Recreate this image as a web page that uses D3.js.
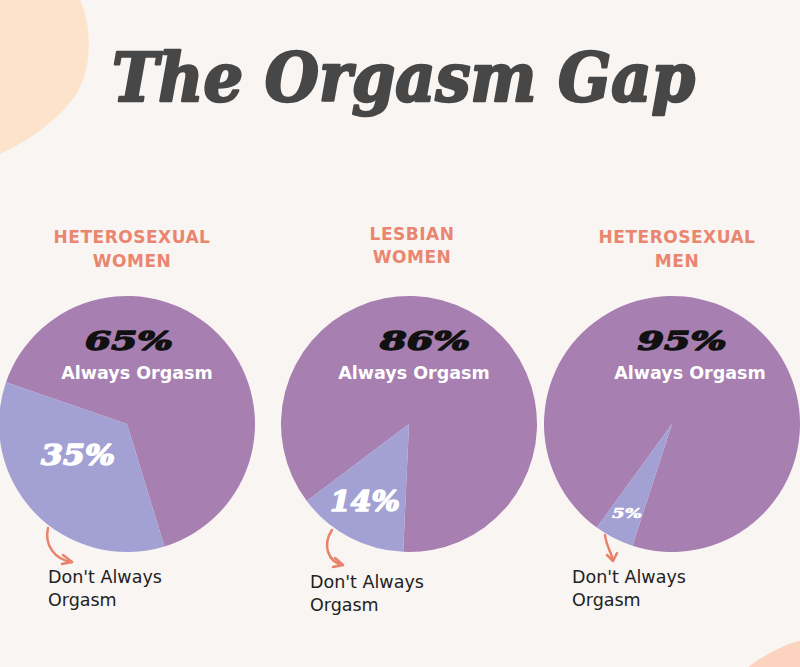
<!DOCTYPE html>
<html>
<head>
<meta charset="utf-8">
<script src="https://cdn.jsdelivr.net/npm/d3@7"></script>
<style>
  html, body { margin: 0; padding: 0; background: #f9f5f2; }
  svg { display: block; }
</style>
</head>
<body>
<svg id="chart" width="800" height="667"></svg>
<script>
// ---------- data ----------
const title = "The Orgasm Gap";
const groupLines = [["HETEROSEXUAL", "WOMEN"], ["LESBIAN", "WOMEN"], ["HETEROSEXUAL", "MEN"]];
const alwaysValues = [65, 86, 95];
const notAlwaysValues = [35, 14, 5];
const alwaysLabel = "Always Orgasm";
const notAlwaysLines = ["Don't Always", "Orgasm"];

// ---------- layout / style ----------
const W = 800, H = 667;
const layout = {
  cx: [127, 409, 672],
  cy: 424,
  r: 128,
  startDeg: [-71, -127, -144],
  headY: [[237, 261], [234, 257], [237, 261]],
  bigPctOff: [[2, -74], [16, -74], [10, -74]],
  bigPctLen: [88, 90, 89],
  alwaysOff: [[10, -45], [5, -45], [18, -45]],
  smallPctOff: [[-49, 41], [-44, 87], [-45, 94]],
  smallPctSize: [27, 27, 12],
  smallPctLen: [74, 70, 30],
  noteX: [48, 310, 572],
  noteY: [583, 588, 583],
  arrows: [
    "M48,528 C44,545 55,560 72,562",
    "M332,530 C322,545 328,562 343,565",
    "M605,535 C606,545 611,552 613,560"
  ],
  heads: [
    "M63,555 L72,562 L62,564",
    "M335,558 L343,565 L333,567",
    "M607,555 L613,561 L617,553"
  ]
};
const colors = { bg: "#f9f5f2", always: "#a77fb0", not: "#a3a0d4", head: "#ea8670", title: "#474747", arrow: "#e9826b" };
const sans = "'DejaVu Sans', sans-serif";
const serif = "'DejaVu Serif', serif";

const svg = d3.select("#chart");
svg.append("rect").attr("width", W).attr("height", H).attr("fill", colors.bg);

// decorative blobs
svg.append("path")
  .attr("d", "M0,0 L80,0 C92,25 93,70 75,96 C58,120 30,140 0,154 Z")
  .attr("fill", "#fde3cb");
svg.append("circle").attr("cx", 840).attr("cy", 782).attr("r", 147).attr("fill", "#fcd3bf");

// title
svg.append("text")
  .attr("x", 112).attr("y", 101)
  .attr("textLength", 583).attr("lengthAdjust", "spacingAndGlyphs")
  .style("font-family", serif)
  .style("font-weight", 900).style("font-style", "italic")
  .style("font-size", "68px")
  .attr("fill", colors.title)
  .attr("stroke", colors.title).attr("stroke-width", 2.6).attr("stroke-linejoin", "round")
  .text(title);

const arc = d3.arc().innerRadius(0).outerRadius(layout.r);

groupLines.forEach((lines, i) => {
  const data = [
    { key: "always", value: alwaysValues[i] },
    { key: "not", value: notAlwaysValues[i] }
  ];
  const s = layout.startDeg[i] * Math.PI / 180;
  const pie = d3.pie().sort(null).value(d => d.value).startAngle(s).endAngle(s + 2 * Math.PI);
  const cx = layout.cx[i], cy = layout.cy;
  const g = svg.append("g").attr("transform", `translate(${cx},${cy})`);

  g.selectAll("path").data(pie(data)).join("path")
    .attr("d", arc)
    .attr("fill", d => colors[d.data.key]);

  // group heading
  lines.forEach((t, j) => {
    svg.append("text")
      .attr("x", cx + (i === 1 ? 3 : 5)).attr("y", layout.headY[i][j] + 6)
      .attr("text-anchor", "middle")
      .style("font-family", sans)
      .style("font-weight", 700)
      .style("font-size", "17px")
      .style("letter-spacing", "0.5px")
      .attr("fill", colors.head)
      .text(t);
  });

  // big percentage
  g.append("text")
    .attr("x", layout.bigPctOff[i][0]).attr("y", layout.bigPctOff[i][1])
    .attr("text-anchor", "middle")
    .attr("textLength", layout.bigPctLen[i]).attr("lengthAdjust", "spacingAndGlyphs")
    .style("font-family", serif)
    .style("font-weight", 900).style("font-style", "italic")
    .style("font-size", "26px")
    .attr("fill", "#111").attr("stroke", "#111").attr("stroke-width", 1.4).attr("stroke-linejoin", "round")
    .text(alwaysValues[i] + "%");

  g.append("text")
    .attr("x", layout.alwaysOff[i][0]).attr("y", layout.alwaysOff[i][1])
    .attr("text-anchor", "middle")
    .style("font-family", sans)
    .style("font-weight", 700)
    .style("font-size", "17.5px")
    .attr("fill", "#fff")
    .text(alwaysLabel);

  // small percentage
  g.append("text")
    .attr("x", layout.smallPctOff[i][0]).attr("y", layout.smallPctOff[i][1])
    .attr("text-anchor", "middle")
    .attr("textLength", layout.smallPctLen[i]).attr("lengthAdjust", "spacingAndGlyphs")
    .style("font-family", serif)
    .style("font-weight", 900).style("font-style", "italic")
    .style("font-size", layout.smallPctSize[i] + "px")
    .attr("fill", "#fff").attr("stroke", "#fff").attr("stroke-width", i === 2 ? 0.5 : 1.4).attr("stroke-linejoin", "round")
    .text(notAlwaysValues[i] + "%");

  // arrow
  svg.append("path").attr("d", layout.arrows[i])
    .attr("fill", "none").attr("stroke", colors.arrow)
    .attr("stroke-width", 2.5).attr("stroke-linecap", "round");
  svg.append("path").attr("d", layout.heads[i])
    .attr("fill", "none").attr("stroke", colors.arrow)
    .attr("stroke-width", 2.5).attr("stroke-linecap", "round").attr("stroke-linejoin", "round");

  // note
  notAlwaysLines.forEach((t, j) => {
    svg.append("text")
      .attr("x", layout.noteX[i]).attr("y", layout.noteY[i] + j * 23)
      .style("font-family", sans)
      .style("font-size", "17.5px")
      .attr("fill", "#222")
      .text(t);
  });
});
</script>
</body>
</html>
